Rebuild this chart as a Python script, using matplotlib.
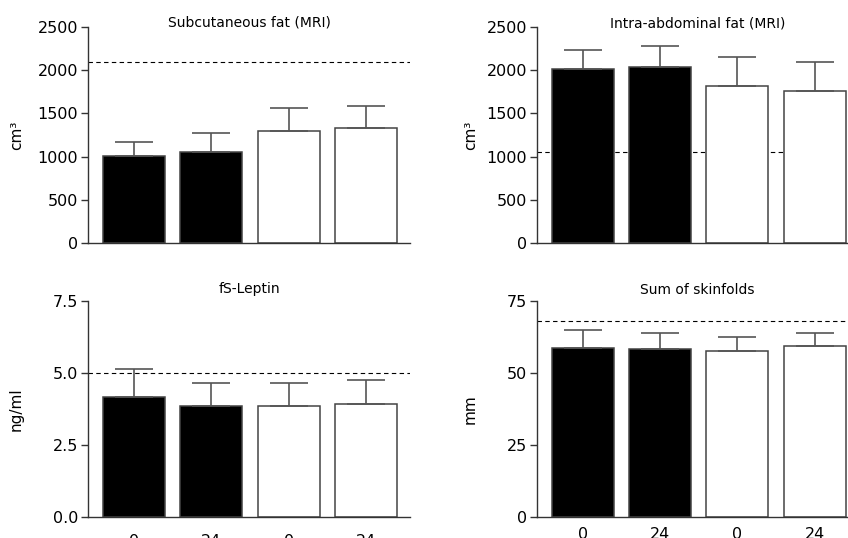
"""
Body fat measures at 0 and 24 weeks, two groups
"""

import matplotlib
matplotlib.use('Agg')
import matplotlib.pyplot as plt
import numpy as np

plt.rcParams['font.family'] = 'DejaVu Sans'

# data
weeks = ['0', '24', '0', '24']
bar_colors = ['black', 'black', 'white', 'white']

subq_mean = [1003, 1050, 1300, 1327]
subq_err = [162, 220, 259, 255]
subq_ref = 2100

abd_mean = [2010, 2033, 1813, 1763]
abd_err = [224, 251, 336, 336]
abd_ref = 1057

leptin_mean = [4.17, 3.86, 3.85, 3.93]
leptin_err = [0.99, 0.81, 0.82, 0.83]
leptin_ref = 5.0

skin_mean = [58.9, 58.3, 57.6, 59.5]
skin_err = [6.0, 5.7, 4.9, 4.5]
skin_ref = 68

fig = plt.figure(figsize=(8.48, 5.38), dpi=100)

panels = [
    # rect, title, mean, err, ref, ylim, yticks, ylabel, title_y, show_x, xpad
    ([0.1038, 0.5483, 0.3797, 0.4015], 'Subcutaneous fat (MRI)', subq_mean, subq_err, subq_ref,
     2500, [0, 500, 1000, 1500, 2000, 2500], 'cm³', 1.02, False, 0),
    ([0.6329, 0.5483, 0.3797, 0.4015], 'Intra-abdominal fat (MRI)', abd_mean, abd_err, abd_ref,
     2500, [0, 500, 1000, 1500, 2000, 2500], 'cm³', 1.015, False, 0),
    ([0.1038, 0.0385, 0.3797, 0.4015], 'fS-Leptin', leptin_mean, leptin_err, leptin_ref,
     7.5, [0.0, 2.5, 5.0, 7.5], 'ng/ml', 1.057, True, 12),
    ([0.6329, 0.0385, 0.3797, 0.4015], 'Sum of skinfolds', skin_mean, skin_err, skin_ref,
     75, [0, 25, 50, 75], 'mm', 1.052, True, 7),
]

x = np.arange(len(weeks))
for rect, title, mean, err, ref, ytop, yticks, ylabel, title_y, show_x, xpad in panels:
    ax = fig.add_axes(rect)
    ax.axhline(ref, color='black', lw=0.8, ls=(0, (4, 3)), zorder=0.5)
    ax.bar(x, mean, width=0.8, color=bar_colors, edgecolor='#444444', linewidth=1.1, zorder=2)
    ax.errorbar(x, mean, yerr=[np.zeros(len(err)), err], fmt='none', ecolor='#555555',
                elinewidth=1.2, capsize=14, capthick=1.2, zorder=3)

    ax.set_xlim(-0.595, 3.57)
    ax.set_ylim(0, ytop)
    ax.set_yticks(yticks)
    if ytop == 7.5:
        ax.set_yticklabels([f'{v:.1f}' for v in yticks])
    ax.set_xticks(x)
    if show_x:
        ax.set_xticklabels(weeks)
    else:
        ax.set_xticklabels([])
    ax.tick_params(axis='x', length=0, labelsize=11.5, pad=xpad)
    ax.tick_params(axis='y', length=5, width=1, color='#333333', labelsize=11.5, pad=2)

    for s in ['top', 'right']:
        ax.spines[s].set_visible(False)
    for s in ['left', 'bottom']:
        ax.spines[s].set_color('#333333')
        ax.spines[s].set_linewidth(1)

    ax.text(0.5, title_y, title, transform=ax.transAxes, ha='center', va='center', fontsize=10)
    ax.set_ylabel(ylabel, fontsize=11)
    lx = -0.2 if rect[0] < 0.5 else -0.183
    ax.yaxis.set_label_coords(lx, 0.5)

plt.savefig('out.png', dpi=100, facecolor='white')
